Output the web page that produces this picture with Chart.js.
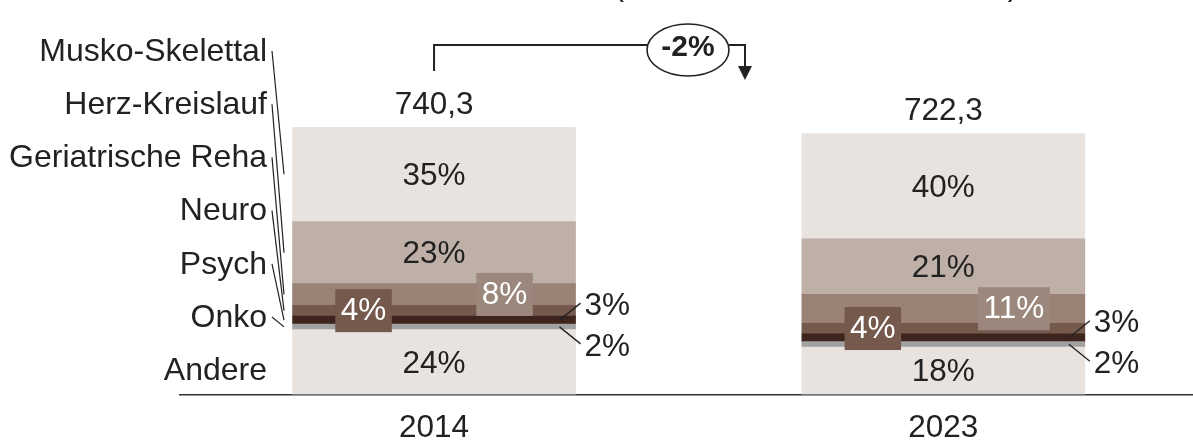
<!DOCTYPE html>
<html lang="de">
<head>
<meta charset="utf-8">
<title>Reha-Fälle 2014 / 2023</title>
<script src="https://cdn.jsdelivr.net/npm/chart.js@4.4.1/dist/chart.umd.min.js"></script>
<style>
    html, body { margin: 0; padding: 0; background: #fff; overflow: hidden; }
    #wrap { width: 1193px; height: 440px; overflow: hidden; }
</style>
</head>
<body>
<div id="wrap">
    <canvas id="rehaChart" width="1198" height="463"></canvas>
</div>
<script>
// Data
const years = ["2014", "2023"];
const totals = [740.3, 722.3];
// segments from bottom to top
const segmentNames = ["Andere", "Onko", "Psych", "Neuro", "Geriatrische Reha", "Herz-Kreislauf", "Musko-Skelettal"];
const andere = [24, 18];
const onko = [2, 2];
const psych = [3, 3];
const neuro = [4, 4];
const geriatrie = [8, 11];
const herz = [23, 21];
const musko = [35, 40];

const shares = [andere, onko, psych, neuro, geriatrie, herz, musko];
const segmentColors = ["#e8e3df", "#a1a1a1", "#3d251d", "#75594c", "#9a8376", "#bfb0a7", "#e8e3df"];

const FONT = '"Liberation Sans", Arial, sans-serif';
const TEXT = "#222";

document.addEventListener("DOMContentLoaded", () => {
    // bar heights follow the totals, split by the shares of each year
    const sums = years.map((_, i) => shares.reduce((s, arr) => s + arr[i], 0));
    const datasets = shares.map((arr, k) => ({
        label: segmentNames[k],
        data: arr.map((p, i) => totals[i] * p / sums[i]),
        backgroundColor: segmentColors[k],
        borderWidth: 0,
        barThickness: 283
    }));

    const fmt = v => v.toFixed(1).replace(".", ",");

    function segGeom(chart, k, i) {
        const el = chart.getDatasetMeta(k).data[i];
        const p = el.getProps(["x", "y", "base", "width"], true);
        return {
            x: p.x,
            top: Math.min(p.y, p.base),
            bottom: Math.max(p.y, p.base),
            mid: (p.y + p.base) / 2,
            left: p.x - p.width / 2,
            right: p.x + p.width / 2
        };
    }

    function drawBox(ctx, text, cx, cy, color) {
        ctx.font = "31.5px " + FONT;
        const w = ctx.measureText(text).width + 11;
        const h = 43;
        ctx.fillStyle = color;
        ctx.fillRect(cx - w / 2, cy - h / 2, w, h);
        ctx.fillStyle = "#fff";
        ctx.textAlign = "center";
        ctx.textBaseline = "middle";
        ctx.fillText(text, cx, cy + 1);
    }

    const annotations = {
        id: "annotations",
        afterDatasetsDraw(chart) {
            const ctx = chart.ctx;
            ctx.save();

            years.forEach((_, i) => {
                // big segments: plain labels centered
                [0, 5, 6].forEach(k => {
                    const g = segGeom(chart, k, i);
                    ctx.font = "31.5px " + FONT;
                    ctx.fillStyle = TEXT;
                    ctx.textAlign = "center";
                    ctx.textBaseline = "middle";
                    ctx.fillText(shares[k][i] + "%", g.x, g.mid + 2);
                });

                // small segments: boxed labels
                const gN = segGeom(chart, 3, i);
                drawBox(ctx, neuro[i] + "%", gN.left + 71, gN.mid, segmentColors[3]);
                const gG = segGeom(chart, 4, i);
                drawBox(ctx, geriatrie[i] + "%", gG.left + 212, gG.mid, "#9b877b");

                // thin segments: labels on the right with leaders
                [[2, -17], [1, 17]].forEach(([k, dy]) => {
                    const g = segGeom(chart, k, i);
                    ctx.strokeStyle = TEXT;
                    ctx.lineWidth = 1.3;
                    ctx.beginPath();
                    ctx.moveTo(g.right - 16, g.mid);
                    ctx.lineTo(g.right + 5, g.mid + dy);
                    ctx.stroke();
                    ctx.font = "31.5px " + FONT;
                    ctx.fillStyle = TEXT;
                    ctx.textAlign = "left";
                    ctx.textBaseline = "middle";
                    ctx.fillText(shares[k][i] + "%", g.right + 9, g.mid + dy + 3);
                });

                // totals above the bars
                const gTop = segGeom(chart, 6, i);
                ctx.font = "31.5px " + FONT;
                ctx.fillStyle = TEXT;
                ctx.textAlign = "center";
                ctx.textBaseline = "middle";
                ctx.fillText(fmt(totals[i]), gTop.x, gTop.top - 22);
            });

            // legend on the left, top entry first
            for (let k = segmentNames.length - 1; k >= 0; k--) {
                const row = segmentNames.length - 1 - k;
                const ly = 51 + row * 53.2;
                ctx.font = "32px " + FONT;
                ctx.fillStyle = TEXT;
                ctx.textAlign = "right";
                ctx.textBaseline = "middle";
                ctx.fillText(segmentNames[k], 267, ly + 1);
                if (k > 0) {
                    const g = segGeom(chart, k, 0);
                    ctx.strokeStyle = TEXT;
                    ctx.lineWidth = 1.2;
                    ctx.beginPath();
                    ctx.moveTo(272, ly);
                    ctx.lineTo(284, g.mid);
                    ctx.stroke();
                }
            }

            // change bracket between the two totals
            const x1 = segGeom(chart, 6, 0).x;
            const change = Math.round((totals[1] / totals[0] - 1) * 100);
            ctx.strokeStyle = TEXT;
            ctx.lineWidth = 2;
            ctx.beginPath();
            ctx.moveTo(x1, 71);
            ctx.lineTo(x1, 45);
            ctx.lineTo(647, 45);
            ctx.moveTo(729, 45);
            ctx.lineTo(745, 45);
            ctx.lineTo(745, 68);
            ctx.stroke();
            ctx.fillStyle = TEXT;
            ctx.beginPath();
            ctx.moveTo(738, 66);
            ctx.lineTo(752, 66);
            ctx.lineTo(745, 80);
            ctx.closePath();
            ctx.fill();

            ctx.lineWidth = 1.6;
            ctx.beginPath();
            ctx.ellipse(688, 50, 41, 26, 0, 0, Math.PI * 2);
            ctx.stroke();
            ctx.font = "bold 30px " + FONT;
            ctx.textAlign = "center";
            ctx.textBaseline = "middle";
            ctx.fillText((change > 0 ? "+" : "") + change + "%", 688, 48);

            // bottoms of the cut-off subtitle brackets
            ctx.font = "31px " + FONT;
            ctx.textBaseline = "alphabetic";
            ctx.fillText("(", 619, -5);
            ctx.fillText(")", 1013, -5);

            ctx.restore();
        }
    };

    new Chart(document.getElementById("rehaChart"), {
        type: "bar",
        data: { labels: years, datasets: datasets },
        options: {
            responsive: false,
            animation: false,
            layout: { padding: { left: 179.4, right: 0, top: 127, bottom: 0 } },
            plugins: {
                legend: { display: false },
                tooltip: { enabled: false }
            },
            scales: {
                x: {
                    stacked: true,
                    grid: { display: false, drawTicks: false },
                    border: { display: true, color: "#333", width: 1.6 },
                    ticks: {
                        color: TEXT,
                        padding: 15.4,
                        font: { family: FONT, size: 31.5 }
                    }
                },
                y: {
                    stacked: true,
                    display: false,
                    min: 0,
                    max: Math.max(...totals)
                }
            }
        },
        plugins: [annotations]
    });
});
</script>
</body>
</html>
